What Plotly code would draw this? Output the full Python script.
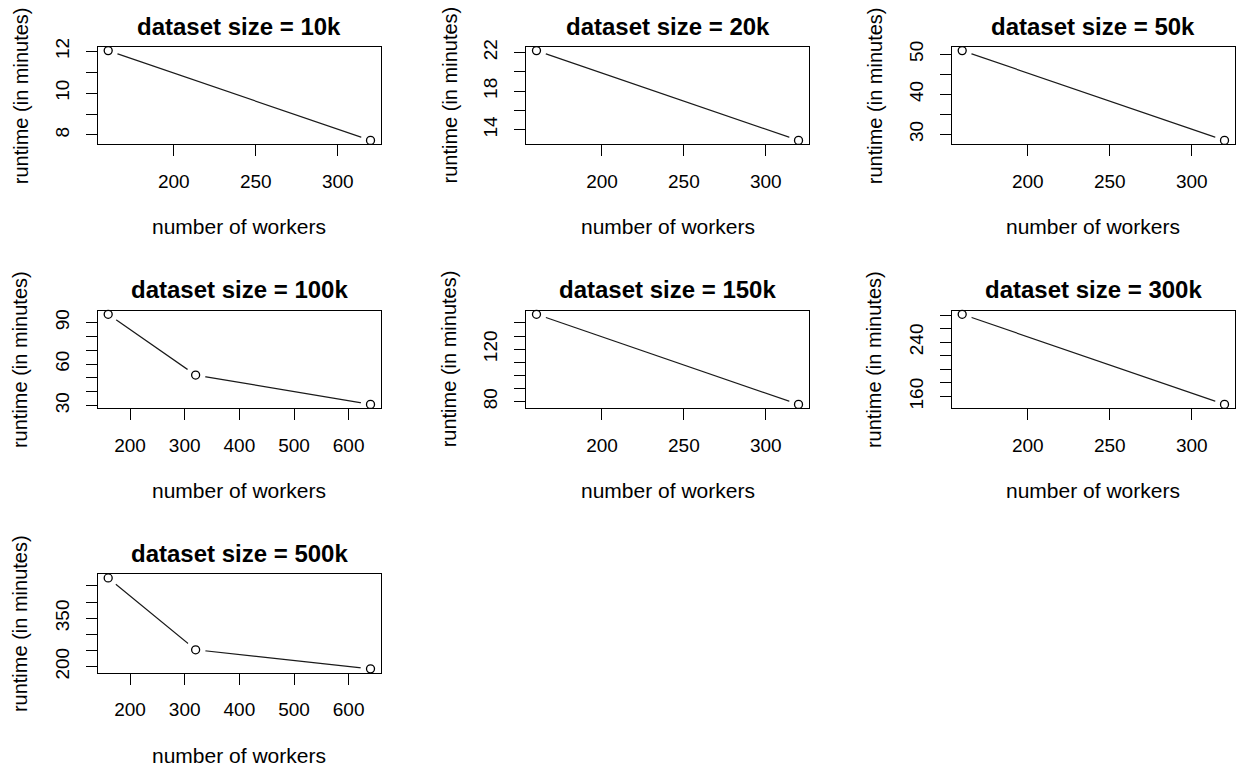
import plotly.graph_objects as go

# ---------------- data ----------------
panel_titles = ["dataset size = 10k", "dataset size = 20k", "dataset size = 50k",
                "dataset size = 100k", "dataset size = 150k", "dataset size = 300k",
                "dataset size = 500k"]

workers_two = [160, 320]
workers_three = [160, 320, 640]

runtime_10k = [12.03, 7.74]
runtime_20k = [22.2, 12.9]
runtime_50k = [50.9, 28.5]
runtime_100k = [96.0, 52.1, 30.9]
runtime_150k = [146.6, 77.8]
runtime_300k = [281.2, 148.3]
runtime_500k = [474.9, 252.0, 192.8]

xticks_two = [200, 250, 300]
xticks_three = [200, 300, 400, 500, 600]

yticks_10k = [8, 9, 10, 11, 12]
ylabels_10k = ["8", "", "10", "", "12"]
yticks_20k = [14, 16, 18, 20, 22]
ylabels_20k = ["14", "", "18", "", "22"]
yticks_50k = [30, 35, 40, 45, 50]
ylabels_50k = ["30", "", "40", "", "50"]
yticks_100k = [30, 40, 50, 60, 70, 80, 90]
ylabels_100k = ["30", "", "", "60", "", "", "90"]
yticks_150k = [80, 90, 100, 110, 120, 130, 140]
ylabels_150k = ["80", "", "", "", "120", "", ""]
yticks_300k = [160, 180, 200, 220, 240, 260, 280]
ylabels_300k = ["160", "", "", "", "240", "", ""]
yticks_500k = [200, 250, 300, 350, 400, 450]
ylabels_500k = ["200", "", "", "350", "", ""]

x_title = "number of workers"
y_title = "runtime (in minutes)"

panels = [
    (workers_two, runtime_10k, xticks_two, yticks_10k, ylabels_10k),
    (workers_two, runtime_20k, xticks_two, yticks_20k, ylabels_20k),
    (workers_two, runtime_50k, xticks_two, yticks_50k, ylabels_50k),
    (workers_three, runtime_100k, xticks_three, yticks_100k, ylabels_100k),
    (workers_two, runtime_150k, xticks_two, yticks_150k, ylabels_150k),
    (workers_two, runtime_300k, xticks_two, yticks_300k, ylabels_300k),
    (workers_three, runtime_500k, xticks_three, yticks_500k, ylabels_500k),
]

# ---------------- layout geometry (pixels) ----------------
W, H = 1236, 766
col_left = [97.7, 526.0, 951.7]
col_right = [381.0, 809.0, 1235.0]
row_top = [47.0, 310.7, 574.3]
row_bottom = [144.0, 408.0, 672.5]

FONT = "Liberation Sans, Arial, Helvetica, sans-serif"
INK = "#000000"


def pad_range(vals):
    lo, hi = min(vals), max(vals)
    d = (hi - lo) * 0.04
    return [lo - d, hi + d]


fig = go.Figure()
annotations = []

for i, (xs, ys, xt, yt, yl) in enumerate(panels):
    r, c = divmod(i, 3)
    n = i + 1
    xa = "x" if n == 1 else f"x{n}"
    ya = "y" if n == 1 else f"y{n}"

    # connecting line
    fig.add_trace(go.Scatter(x=xs, y=ys, mode="lines", xaxis=xa, yaxis=ya,
                             line=dict(color="#1a1a1a", width=1.2),
                             showlegend=False, hoverinfo="skip"))
    # white halo producing the gaps of R's type="b"
    fig.add_trace(go.Scatter(x=xs, y=ys, mode="markers", xaxis=xa, yaxis=ya,
                             marker=dict(size=20, color="white", line=dict(width=0)),
                             showlegend=False, hoverinfo="skip", cliponaxis=True))
    # open circles
    fig.add_trace(go.Scatter(x=xs, y=ys, mode="markers", xaxis=xa, yaxis=ya,
                             marker=dict(size=8, color="white", symbol="circle",
                                         line=dict(color=INK, width=1.3)),
                             showlegend=False, cliponaxis=False))

    x0, x1 = col_left[c] / W, col_right[c] / W
    y0, y1 = 1 - row_bottom[r] / H, 1 - row_top[r] / H

    axis_common = dict(showline=True, mirror=True, linecolor=INK, linewidth=1.2,
                       ticks="outside", ticklen=11, tickwidth=1.2, tickcolor=INK,
                       showgrid=False, zeroline=False, automargin=False,
                       tickfont=dict(family=FONT, size=19, color=INK))

    fig.layout[f"xaxis{'' if n == 1 else n}"] = dict(
        domain=[x0, x1], anchor=ya, range=pad_range(xs),
        tickmode="array", tickvals=xt, ticktext=[str(v) for v in xt],
        ticklabelstandoff=9, **axis_common)
    fig.layout[f"yaxis{'' if n == 1 else n}"] = dict(
        domain=[y0, y1], anchor=xa, range=pad_range(ys),
        tickmode="array", tickvals=yt, ticktext=yl, tickangle=-90,
        ticklabelstandoff=9, **axis_common)

    cx = (col_left[c] + col_right[c]) / 2
    cy = (row_top[r] + row_bottom[r]) / 2
    annotations.append(dict(text=f"<b>{panel_titles[i]}</b>", x=cx / W, y=1 - (row_top[r] - 21) / H,
                            xref="paper", yref="paper", showarrow=False,
                            xanchor="center", yanchor="middle",
                            font=dict(family=FONT, size=24, color=INK)))
    annotations.append(dict(text=x_title, x=cx / W, y=1 - (row_bottom[r] + 82.5) / H,
                            xref="paper", yref="paper", showarrow=False,
                            xanchor="center", yanchor="middle",
                            font=dict(family=FONT, size=21, color=INK)))
    annotations.append(dict(text=y_title, x=(col_left[c] - 77) / W, y=1 - cy / H,
                            xref="paper", yref="paper", showarrow=False,
                            xanchor="center", yanchor="middle", textangle=-90,
                            font=dict(family=FONT, size=20, color=INK)))

fig.update_layout(width=W, height=H,
                  margin=dict(l=0, r=0, t=0, b=0, pad=0, autoexpand=False),
                  paper_bgcolor="white", plot_bgcolor="white",
                  annotations=annotations, showlegend=False)

fig.write_html("out.html", config={"displayModeBar": False},
               post_script="document.body.style.margin='0';"
                           "document.body.style.overflow='hidden';")
